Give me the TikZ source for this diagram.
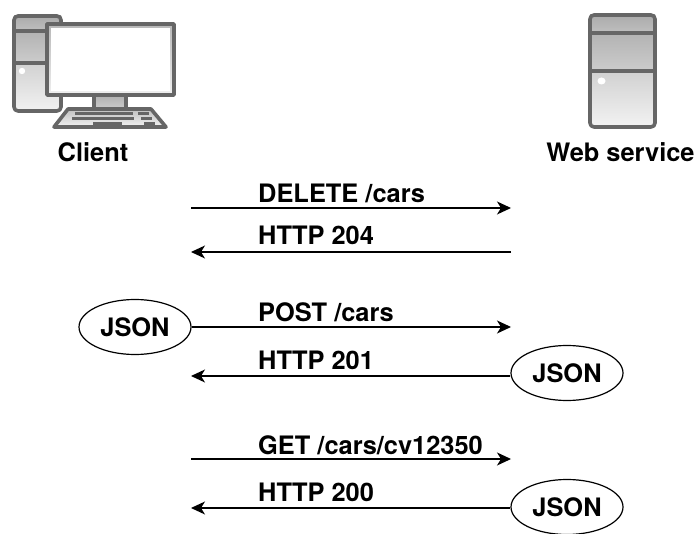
\documentclass[tikz,border=0pt]{standalone}
\usepackage{fontspec}
\setmainfont{TeX Gyre Heros}
\usetikzlibrary{arrows.meta,shapes.geometric}
\tikzset{
  icon/.style={draw=black!60,line width=3.6pt,line join=round},
  gradtop/.style={top color=black!33,bottom color=black!25},
  gradmid/.style={top color=black!30,bottom color=black!20},
  gradlow/.style={top color=black!18,bottom color=black!5},
  keybar/.style={draw=none,fill=black!60},
  lab/.style={anchor=base west,font=\fontsize{25.4}{30}\selectfont\bfseries,inner sep=0pt},
  title/.style={anchor=base,font=\fontsize{25.4}{30}\selectfont\bfseries,inner sep=0pt},
  jsonnode/.style={ellipse,draw=black,line width=1.2pt,fill=white,minimum width=112pt,minimum height=55pt,inner sep=0pt,font=\fontsize{25.4}{30}\selectfont\bfseries},
  msg/.style={line width=1.2pt,-{Stealth[length=14pt,width=13pt,inset=4pt]}}
}
\begin{document}
\begin{tikzpicture}[x=1pt,y=-1pt]
\useasboundingbox (0,0) rectangle (696,534);
\clip (0,0) rectangle (696,534);
% tower
\fill[gradtop] (14,16) rectangle (61,31);
\fill[gradmid] (14,31) rectangle (61,63);
\fill[gradlow] (14,63) rectangle (61,111);
\draw[icon,rounded corners=4pt] (14,16) rectangle (61,111);
\draw[icon] (14,31) -- (61,31);
\draw[icon] (14,63) -- (61,63);
\fill[white] (22,71) circle (3.2);
% stand
\fill[gradmid] (94,96) rectangle (126,109);
\draw[icon] (94,96) -- (94,109) (126,96) -- (126,109);
% monitor
\fill[top color=black!28,bottom color=black!6] (47,24) rectangle (174,95);
\fill[white] (51,28) rectangle (170,91);
\draw[icon] (47,24) rectangle (174,95);
% keyboard
\draw[icon,top color=black!25,bottom color=black!5] (68,109) -- (151,109) -- (166,127) -- (54,127) -- cycle;
\fill[keybar] (75,112) rectangle (133,115.5);
\fill[keybar] (138,112) rectangle (149,115.5);
\fill[keybar] (72,117) rectangle (134,120);
\fill[keybar] (141,117) rectangle (152,120);
\fill[keybar] (93,122) rectangle (122,125);
\fill[keybar] (144,122) rectangle (155,125);
% server
\fill[gradtop] (590,15) rectangle (655,33);
\fill[gradmid] (590,33) rectangle (655,71);
\fill[gradlow] (590,71) rectangle (655,127);
\draw[icon,rounded corners=4pt] (590,15) rectangle (655,127);
\draw[icon] (590,33) -- (655,33);
\draw[icon] (590,71) -- (655,71);
\fill[white] (601.5,81) ellipse (4 and 3.5);
% titles
\node[title] (client) at (93,162) {Client};
\node[title] (web) at (620.5,162) {Web service};
% coordinates
\coordinate (l1) at (191,208); \coordinate (r1) at (511,208);
\coordinate (l2) at (191,252); \coordinate (r2) at (511,252);
\coordinate (r3) at (511,327);
\coordinate (l4) at (191,376);
\coordinate (l5) at (191,459); \coordinate (r5) at (511,459);
\coordinate (l6) at (191,508);
% json
\node[jsonnode] (j1) at (135,327) {JSON};
\node[jsonnode] (j2) at (567,373) {JSON};
\node[jsonnode] (j3) at (567,507) {JSON};
% connectors
\draw[msg] (l1) -- (r1);
\draw[msg] (r2) -- (l2);
\draw[msg] (j1.east) -- (r3);
\draw[msg] (j2.west |- l4) -- (l4);
\draw[msg] (l5) -- (r5);
\draw[msg] (j3.west |- l6) -- (l6);
% labels
\node[lab] (t1) at (258,203) {DELETE /cars};
\node[lab] (t2) at (258,245) {HTTP 204};
\node[lab] (t3) at (258,322) {POST /cars};
\node[lab] (t4) at (258,370) {HTTP 201};
\node[lab] (t5) at (258,454) {GET /cars/cv12350};
\node[lab] (t6) at (258,501) {HTTP 200};
\end{tikzpicture}
\end{document}
